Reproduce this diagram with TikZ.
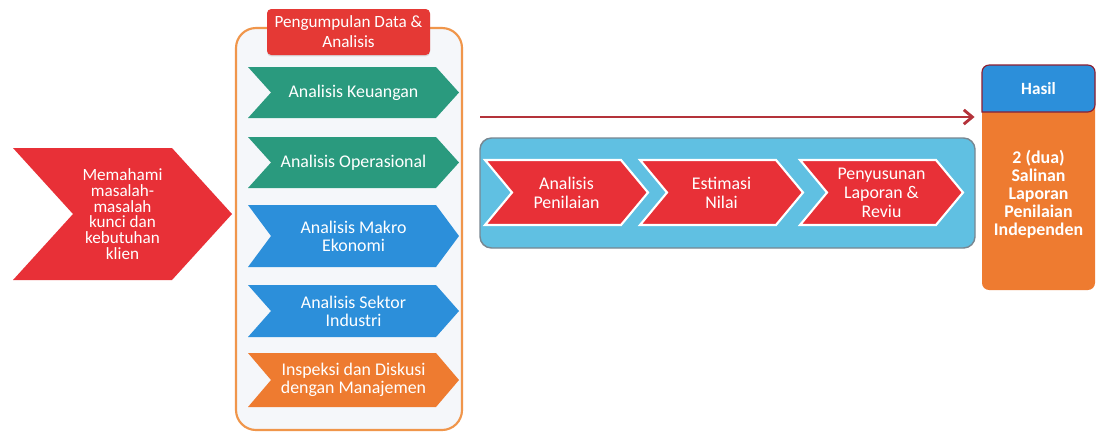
\documentclass[tikz,border=0pt]{standalone}
\usepackage{fontspec}
\setmainfont{Carlito}
\usetikzlibrary{arrows.meta,shadows}
\definecolor{merah}{RGB}{232,48,55}
\definecolor{merahjudul}{RGB}{229,57,53}
\definecolor{hijau}{RGB}{42,154,126}
\definecolor{biru}{RGB}{44,143,218}
\definecolor{oranye}{RGB}{238,123,48}
\definecolor{garisoranye}{RGB}{240,150,75}
\definecolor{latar}{RGB}{245,247,250}
\definecolor{langit}{RGB}{96,192,226}
\definecolor{abu}{RGB}{120,135,145}
\definecolor{panah}{RGB}{180,50,58}
\definecolor{marun}{RGB}{140,30,50}
\tikzstyle{txt}=[text=white,align=center,inner sep=0pt,font=\fontsize{12.5}{12.5}\selectfont]
\tikzstyle{rapat}=[font=\fontsize{12}{11}\selectfont]
\tikzstyle{longgar}=[font=\fontsize{12.5}{13.3}\selectfont]
\tikzstyle{kotak}=[draw=garisoranye,line width=1.5pt,fill=latar,rounded corners=14pt,minimum width=158.2pt,minimum height=281.4pt]
\tikzstyle{judul}=[fill=merahjudul,rounded corners=3pt,minimum width=114.1pt,minimum height=32.2pt,drop shadow={opacity=0.25,shadow xshift=0pt,shadow yshift=-1pt}]
\tikzstyle{panel}=[draw=abu,line width=1pt,fill=langit,rounded corners=8pt,minimum width=346.5pt,minimum height=77pt]
\tikzstyle{hasilbox}=[fill=oranye,rounded corners=5pt,minimum width=79.1pt,minimum height=157.5pt]
\tikzstyle{hasilkepala}=[fill=biru,draw=marun,line width=0.8pt]
\tikzstyle{tahap}=[fill=merah,draw=white,line width=1.5pt,line join=miter]
\tikzstyle{panahmerah}=[draw=panah,line width=2pt,-{Straight Barb[length=6pt,width=10pt]}]
% style, left, top, right, bottom, depth, name, text style, text
\newcommand{\chevronbox}[9]{%
  \path[#1] (#2,#3) -- ({#4-#6},#3) -- (#4,{(#3+#5)/2}) -- ({#4-#6},#5) -- (#2,#5) -- ({#2+#6},{(#3+#5)/2}) -- cycle;
  \node[txt,#8] (#7) at ({(#2+#4)/2},{(#3+#5)/2}) {#9};}

\begin{document}
\begin{tikzpicture}[x=0.7pt,y=-0.7pt]
  \useasboundingbox[fill=white] (0,0) rectangle (1096,433);

  \chevronbox{fill=merah}{13}{148}{232}{280}{60}{memahami}{rapat}{Memahami\\masalah-\\masalah\\kunci dan\\kebutuhan\\klien}

  \node[kotak] (kumpul) at (349,229) {};
  \node[judul,txt,font=\fontsize{12}{14}\selectfont] (pengumpulan) at (348.5,32) {Pengumpulan Data \&\\Analisis};
  \foreach \atas/\bawah/\warna/\nama/\teks in {%
    67/118/hijau/keuangan/{Analisis Keuangan}, 137/188/hijau/operasional/{Analisis Operasional},
    205/267/biru/makro/{Analisis Makro\\Ekonomi}, 285/337/biru/sektor/{Analisis Sektor\\Industri},
    353/407/oranye/inspeksi/{Inspeksi dan Diskusi\\dengan Manajemen}}
    {\chevronbox{fill=\warna}{248}{\atas}{459}{\bawah}{23}{\nama}{}{\teks}}

  \node[panel] (proses) at (727.5,193) {};
  \foreach \kiri/\nama/\teks in {485/penilaian/{Analisis\\Penilaian}, 640/estimasi/{Estimasi\\Nilai},
    800/laporan/{Penyusunan\\Laporan \&\\Reviu}}
    {\chevronbox{tahap}{\kiri}{160}{\kiri+163}{225}{27}{\nama}{longgar}{\teks}}

  % hasil
  \node[hasilbox] (hasil) at (1038.5,177.5) {};
  \path[hasilkepala] (982,112) [rounded corners=5pt] -- (982,65) -- (1095,65) -- (1095,112) [sharp corners] -- cycle;
  \node[txt,font=\bfseries\fontsize{12}{12.6}\selectfont] (judulhasil) at (1038.5,88.5) {Hasil};
  \node[txt,font=\bfseries\fontsize{12.5}{12.6}\selectfont] (isihasil) at (1038.5,194) {2 (dua)\\Salinan\\Laporan\\Penilaian\\Independen};

  \coordinate (awal) at (480,117);
  \draw[panahmerah,shorten >=5pt] (awal) -- (awal -| hasil.west);
\end{tikzpicture}
\end{document}
